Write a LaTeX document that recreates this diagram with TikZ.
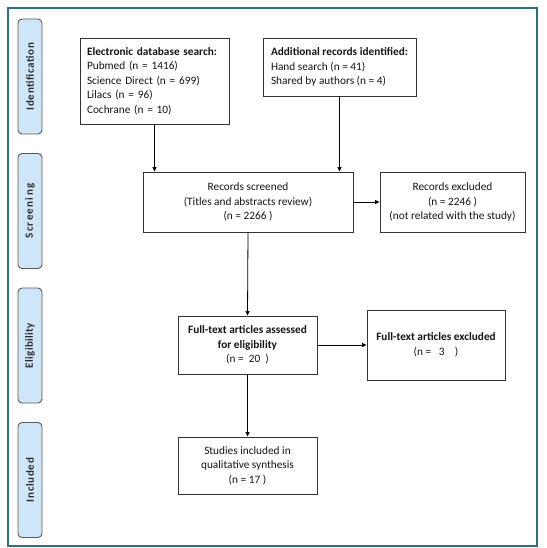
\documentclass[tikz,border=0pt]{standalone}
\usepackage{fontspec}
\setmainfont{Carlito}
\usetikzlibrary{arrows.meta}
\definecolor{framecol}{HTML}{2F6F80}
\definecolor{lblfill}{HTML}{CFE6F8}
\definecolor{lbldraw}{HTML}{5A5A5A}
\definecolor{boxdraw}{HTML}{333333}
\definecolor{txtcol}{HTML}{151515}
\begin{document}
\begin{tikzpicture}[x=1pt,y=-1pt,
  every node/.style={font=\fontsize{11.3}{14.5}\selectfont, text=txtcol},
  stagebox/.style={draw=lbldraw, fill=lblfill, rounded corners=4pt, line width=0.9pt,
    rotate=90, minimum width=115pt, minimum height=24pt, inner sep=0pt,
    font=\fontsize{11}{13}\selectfont\bfseries, text=txtcol!90},
  flowbox/.style={draw=boxdraw, line width=0.9pt, align=center, inner sep=2pt},
  leftbox/.style={draw=boxdraw, line width=0.9pt, align=left, inner xsep=7pt, inner ysep=2pt},
  arr/.style={-{Triangle[length=4.5pt,width=4pt]}, line width=0.8pt, draw=black}
]
\useasboundingbox (0,0) rectangle (546,548);
\fill[white] (0,0) rectangle (546,548);
\draw[framecol, line width=1.2pt] (8,8) rectangle (537,546);

% stage labels
\node[stagebox] (lid) at (30,76.5) {\addfontfeature{LetterSpace=6}Identification};
\node[stagebox] (lsc) at (30,211) {\addfontfeature{LetterSpace=12}Screening};
\node[stagebox] (lel) at (30,345.5) {\addfontfeature{LetterSpace=3}Eligibility};
\node[stagebox] (lin) at (30,480) {\addfontfeature{LetterSpace=6}Included};

% boxes
\node[leftbox, minimum width=149pt, minimum height=86pt, text width=135pt] (db) at (154.5,81)
  {\textbf{Electronic database search:}\\Pubmed (n = 1416)\\Science Direct (n = 699)\\Lilacs (n = 96)\\Cochrane (n = 10)};
\node[leftbox, minimum width=153pt, minimum height=58pt] (add) at (339.5,67)
  {\textbf{Additional records identified:}\\Hand search (n = 41)\\Shared by authors (n = 4)};
\node[flowbox, minimum width=210pt, minimum height=60pt] (scr) at (248,202)
  {Records screened\\(Titles and abstracts review)\\(n = 2266 )};
\node[flowbox, minimum width=145pt, minimum height=60pt] (rex) at (452.5,202)
  {Records excluded\\(n = 2246 )\\(not related with the study)};
\node[flowbox, minimum width=139pt, minimum height=58pt] (ass) at (247.5,345)
  {\textbf{Full-text articles assessed}\\\textbf{for eligibility}\\(n =\ \ 20\ \ )};
\node[flowbox, minimum width=138pt, minimum height=70pt] (fex) at (436,345)
  {\textbf{Full-text articles excluded}\\(n =\ \ \ 3\ \ \ \ )};
\node[flowbox, minimum width=139pt, minimum height=57pt] (stu) at (247.5,465.5)
  {Studies included in\\qualitative synthesis\\(n = 17 )};

% connectors
\draw[arr] (db.south) -- (db.south |- scr.north);
\draw[arr] (add.south) -- (add.south |- scr.north);
\draw[arr] (scr.east) -- (rex.west);
\draw[arr] (scr.south) -- (ass.north);
\draw[arr] (ass.east) -- (fex.west);
\draw[arr] (ass.south) -- (stu.north);
\end{tikzpicture}
\end{document}
